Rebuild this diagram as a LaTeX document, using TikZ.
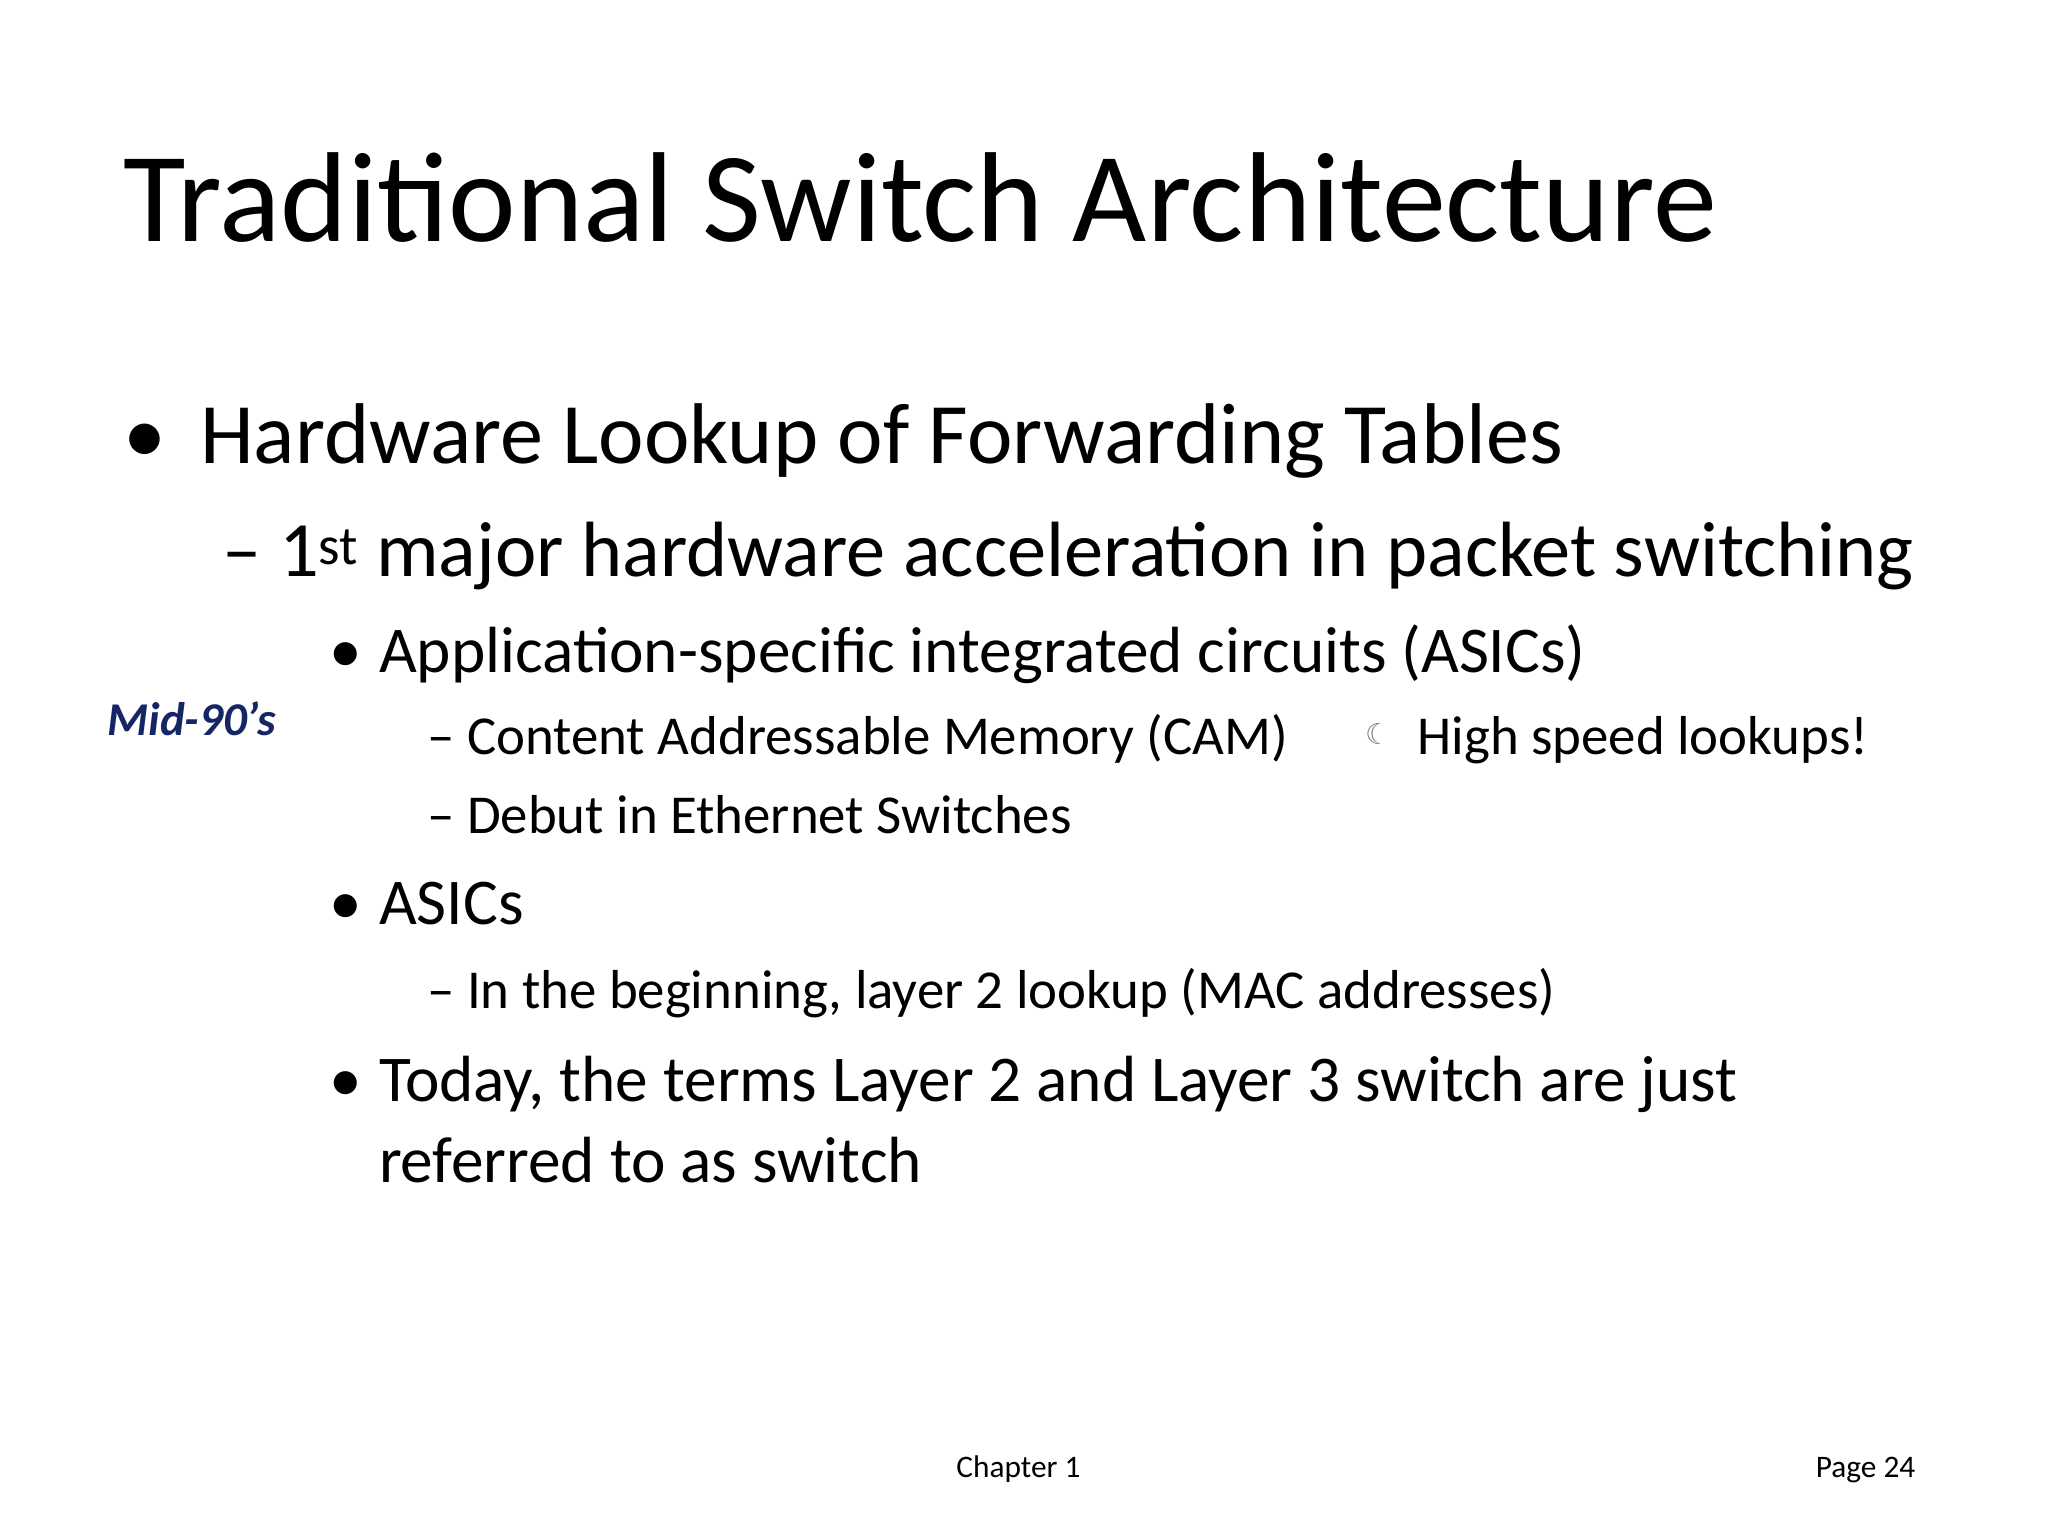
\documentclass[tikz,border=0pt]{standalone}
\usepackage{fontspec}
\setmainfont{Carlito}
\newfontfamily\djv{DejaVu Sans}
\definecolor{midblue}{RGB}{22,38,100}
\begin{document}
\begin{tikzpicture}[x=1pt,y=1pt,
  t/.style={anchor=base west,inner sep=0pt,text=black}]
\useasboundingbox[fill=white] (0,0) rectangle (1568,-1176);
\node[t,font=\fontsize{98}{110}\selectfont] (title) at (94,-185) {Traditional Switch Architecture};
\node[t,font=\fontsize{66}{78}\selectfont] (b1d) at (94,-355) {•};
\node[t,font=\fontsize{66}{78}\selectfont] (b1) at (153,-355) {Hardware Lookup of Forwarding Tables};
\node[t,font=\fontsize{60}{70}\selectfont] (b2) at (170,-441) {– 1\textsuperscript{st} major hardware acceleration in packet switching};
\node[t,font=\fontsize{50}{60}\selectfont] (b3d) at (252,-515) {•};
\node[t,font=\fontsize{50}{60}\selectfont] (b3) at (290,-515) {Application-specific integrated circuits (ASICs)};
\node[t,font=\fontsize{42}{50}\selectfont] (b4) at (327,-578) {– Content Addressable Memory (CAM)};
\node[t,font=\fontsize{22}{26}\selectfont\djv,text=gray] (moon) at (1045,-570) {☾};
\node[t,font=\fontsize{42}{50}\selectfont] (b4b) at (1085,-578) {High speed lookups!};
\node[t,font=\fontsize{42}{50}\selectfont] (b5) at (327,-638) {– Debut in Ethernet Switches};
\node[t,font=\fontsize{50}{60}\selectfont] (b6d) at (252,-708) {•};
\node[t,font=\fontsize{50}{60}\selectfont] (b6) at (290,-708) {ASICs};
\node[t,font=\fontsize{42}{50}\selectfont] (b7) at (327,-772) {– In the beginning, layer 2 lookup (MAC addresses)};
\node[t,font=\fontsize{50}{60}\selectfont] (b8d) at (252,-843) {•};
\node[t,font=\fontsize{50}{60}\selectfont] (b8) at (290,-843) {Today, the terms Layer 2 and Layer 3 switch are just};
\node[t,font=\fontsize{50}{60}\selectfont] (b9) at (290,-905) {referred to as switch};
\node[t,font=\fontsize{36}{42}\selectfont\bfseries\itshape,text=midblue] (mid) at (82,-563) {Mid-90’s};
\node[t,font=\fontsize{24}{28}\selectfont] (ch) at (732,-1131) {Chapter 1};
\node[t,font=\fontsize{24}{28}\selectfont] (pg) at (1390,-1131) {Page 24};
\end{tikzpicture}
\end{document}
